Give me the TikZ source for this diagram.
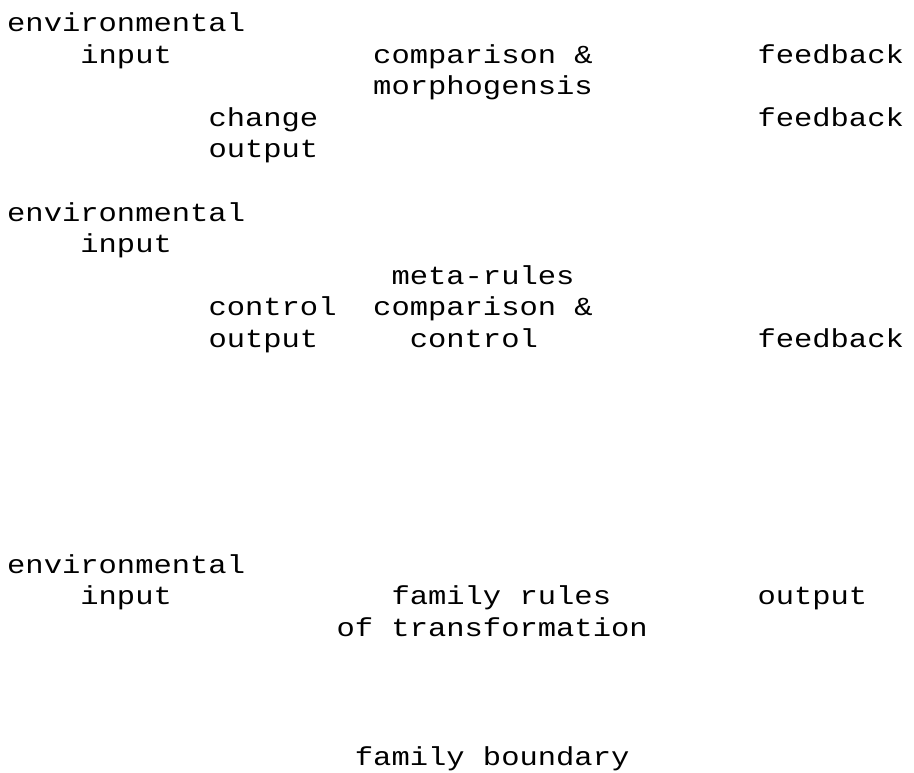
\documentclass[tikz,border=0pt]{standalone}
\usepackage{fontspec}
\usepackage{graphicx}
\setmonofont{Liberation Mono}
\newcommand\dmtxt[1]{\scalebox{1.173}[1]{#1}}
\begin{document}
\begin{tikzpicture}[x=1pt,y=-1pt,
  lbl/.style={anchor=base west, inner sep=0pt, font=\ttfamily\fontsize{26}{28}\selectfont}]
\useasboundingbox (0,0) rectangle (914,773);
\def\cx#1{{7+18.3*#1}}
% top block
\node[lbl] (e1)  at (\cx{0},32)    {\dmtxt{environmental}};
\node[lbl] (i1)  at (\cx{4},63.5)  {\dmtxt{input}};
\node[lbl] (cm1) at (\cx{20},63.5) {\dmtxt{comparison \&}};
\node[lbl] (fb1) at (\cx{41},63.5) {\dmtxt{feedback}};
\node[lbl] (mo1) at (\cx{20},95)   {\dmtxt{morphogensis}};
\node[lbl] (ch1) at (\cx{11},126.5) {\dmtxt{change}};
\node[lbl] (fb2) at (\cx{41},126.5) {\dmtxt{feedback}};
\node[lbl] (o1)  at (\cx{11},158)  {\dmtxt{output}};
% middle block
\node[lbl] (e2)  at (\cx{0},221.5)  {\dmtxt{environmental}};
\node[lbl] (i2)  at (\cx{4},253)    {\dmtxt{input}};
\node[lbl] (mr)  at (\cx{21},284.5) {\dmtxt{meta-rules}};
\node[lbl] (ct1) at (\cx{11},316)   {\dmtxt{control}};
\node[lbl] (cm2) at (\cx{20},316)   {\dmtxt{comparison \&}};
\node[lbl] (o2)  at (\cx{11},347.5) {\dmtxt{output}};
\node[lbl] (ct2) at (\cx{22},347.5) {\dmtxt{control}};
\node[lbl] (fb3) at (\cx{41},347.5) {\dmtxt{feedback}};
% bottom block
\node[lbl] (e3)  at (\cx{0},573)  {\dmtxt{environmental}};
\node[lbl] (i3)  at (\cx{4},604)  {\dmtxt{input}};
\node[lbl] (fr)  at (\cx{21},604) {\dmtxt{family rules}};
\node[lbl] (o3)  at (\cx{41},604) {\dmtxt{output}};
\node[lbl] (tf)  at (\cx{18},636) {\dmtxt{of transformation}};
\node[lbl] (fbd) at (\cx{19},765) {\dmtxt{family boundary}};
\end{tikzpicture}
\end{document}
